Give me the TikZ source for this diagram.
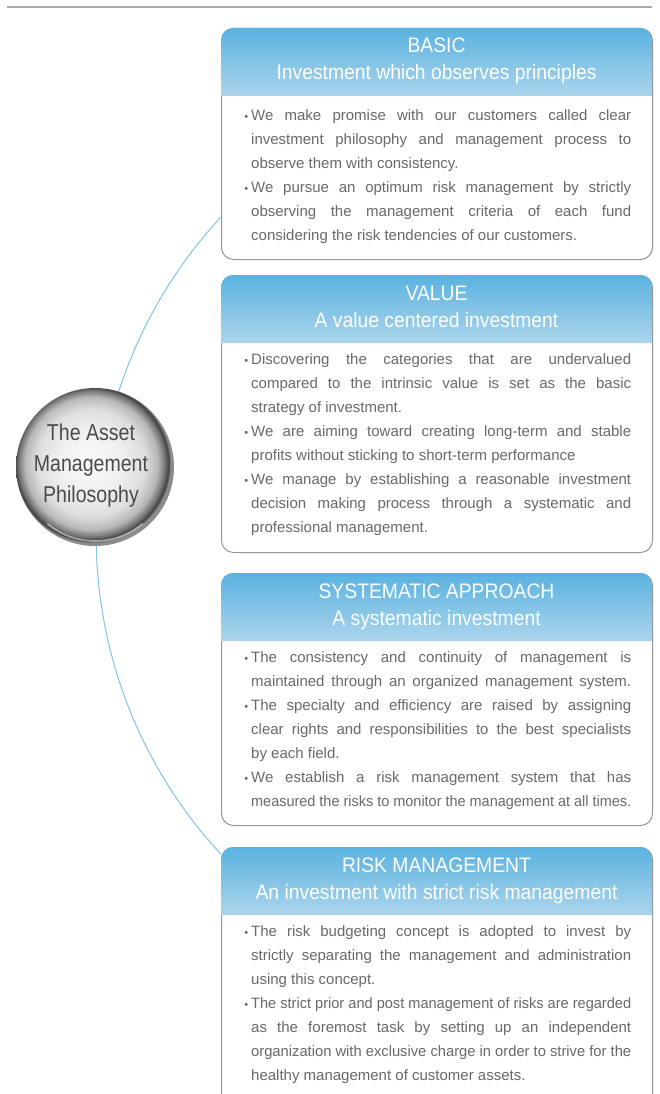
\documentclass[tikz,border=0pt]{standalone}
\usepackage{fontspec}
\usepackage{graphicx}
\setmainfont{Liberation Sans}
\newfontfamily\hfont{Liberation Sans}[FakeStretch=0.92]
\newfontfamily\cfont{Liberation Sans}[FakeStretch=0.85]
\definecolor{hdtop}{RGB}{90,178,224}
\definecolor{hdbot}{RGB}{172,213,236}
\definecolor{boxline}{RGB}{150,150,150}
\definecolor{bodytext}{RGB}{105,105,105}
\definecolor{circtext}{RGB}{75,75,75}
\definecolor{arcblue}{RGB}{130,196,232}
\definecolor{rulegray}{RGB}{170,170,170}
\pgfdeclareradialshading{sphere}{\pgfpoint{-2bp}{2bp}}{%
  color(0bp)=(white!98!black); color(10bp)=(white!94!black);
  color(17bp)=(white!87!black); color(21bp)=(white!72!black);
  color(23.2bp)=(white!45!black); color(24.3bp)=(black!75);
  color(25bp)=(white!55!black); color(50bp)=(white!55!black)}
\newlength\TW \setlength\TW{380pt}
\newcommand\jl[1]{\sbox0{#1}\ifdim\wd0>\TW\resizebox{\TW}{\height}{#1}\else\makebox[\TW][s]{#1}\fi}
\newcommand\nl[1]{\sbox0{#1}\ifdim\wd0>\TW\resizebox{\TW}{\height}{#1}\else\usebox0\fi}
\newcommand\bul{\leavevmode\llap{{\fontsize{11}{11}\selectfont\textbullet}\hspace{3pt}}}
\newcommand\bodyfont{\fontsize{15}{24}\selectfont}
\tikzset{
  boxframe/.style={draw=boxline, line width=1pt, rounded corners=12pt, fill=white},
  hdrfill/.style={top color=hdtop, bottom color=hdbot},
  hdrtext/.style={font=\hfont\fontsize{21}{27}\selectfont, text=white, inner sep=0pt, anchor=base},
  bodynode/.style={anchor=base west, inner sep=0pt, text=bodytext},
  arcline/.style={draw=arcblue, line width=1pt},
}
\begin{document}
\begin{tikzpicture}[x=1pt,y=1pt]
\useasboundingbox (0,0) rectangle (660,-1094);
\fill[white] (0,0) rectangle (660,-1094);
% top rule
\coordinate (ruleL) at (7,-7);
\coordinate (ruleR) at (652,-7);
\draw[rulegray, line width=1.2pt] (ruleL) -- (ruleR);
% connecting arc (behind boxes and sphere)
\coordinate (arcstart) at (221,-217);
\draw[arcline] (arcstart) arc[start angle=137.2, end angle=222.8, radius=469];
% boxes
\foreach \t/\b/\n in {28/259/1, 275/552/2, 573/825/3, 847/1115/4}{
  \node[boxframe, anchor=north west, minimum width=431pt, minimum height={\b-\t}, inner sep=0pt] (box\n) at (221,-\t) {};
  \shade[hdrfill] (221,-\t-68) -- (221,-\t-12) arc[start angle=180, end angle=90, radius=12]
     -- (640,-\t) arc[start angle=90, end angle=0, radius=12] -- (652,-\t-68) -- cycle;
}
% headers
\node[hdrtext] (h1a) at (436.5,-53) {BASIC};
\node[hdrtext] (h1b) at (436.5,-80) {Investment which observes principles};
\node[hdrtext] (h2a) at (436.5,-300) {VALUE};
\node[hdrtext] (h2b) at (436.5,-327) {A value centered investment};
\node[hdrtext] (h3a) at (436.5,-598) {SYSTEMATIC APPROACH};
\node[hdrtext] (h3b) at (436.5,-625) {A systematic investment};
\node[hdrtext] (h4a) at (436.5,-872) {RISK MANAGEMENT};
\node[hdrtext] (h4b) at (436.5,-899) {An investment with strict risk management};
% bodies
\node[bodynode] (t1) at (251,-121) {\parbox[t]{\TW}{\bodyfont
\bul\jl{We make promise with our customers called clear}\\
\jl{investment philosophy and management process to}\\
\nl{observe them with consistency.}\\
\bul\jl{We pursue an optimum risk management by strictly}\\
\jl{observing the management criteria of each fund}\\
\nl{considering the risk tendencies of our customers.}}};
\node[bodynode] (t2) at (251,-364) {\parbox[t]{\TW}{\bodyfont
\bul\jl{Discovering the categories that are undervalued}\\
\jl{compared to the intrinsic value is set as the basic}\\
\nl{strategy of investment.}\\
\bul\jl{We are aiming toward creating long-term and stable}\\
\nl{profits without sticking to short-term performance}\\
\bul\jl{We manage by establishing a reasonable investment}\\
\jl{decision making process through a systematic and}\\
\nl{professional management.}}};
\node[bodynode] (t3) at (251,-662) {\parbox[t]{\TW}{\bodyfont
\bul\jl{The consistency and continuity of management is}\\
\jl{maintained through an organized management system.}\\
\bul\jl{The specialty and efficiency are raised by assigning}\\
\jl{clear rights and responsibilities to the best specialists}\\
\nl{by each field.}\\
\bul\jl{We establish a risk management system that has}\\
\jl{measured the risks to monitor the management at all times.}}};
\node[bodynode] (t4) at (251,-936) {\parbox[t]{\TW}{\bodyfont
\bul\jl{The risk budgeting concept is adopted to invest by}\\
\jl{strictly separating the management and administration}\\
\nl{using this concept.}\\
\bul\jl{The strict prior and post management of risks are regarded}\\
\jl{as the foremost task by setting up an independent}\\
\jl{organization with exclusive charge in order to strive for the}\\
\nl{healthy management of customer assets.}}};
% sphere
\node[circle, minimum size=158pt, inner sep=0pt, shading=sphere] (sphere) at (95,-467) {};
\draw[white, line width=1.6pt, opacity=0.5] (sphere.center) ++(230:74) arc[start angle=230, end angle=310, radius=74];
\node[align=center, font=\cfont\fontsize{23}{31}\selectfont, text=circtext, inner sep=0pt] (ptext) at (91,-466) {The Asset\\Management\\Philosophy};
\end{tikzpicture}
\end{document}
